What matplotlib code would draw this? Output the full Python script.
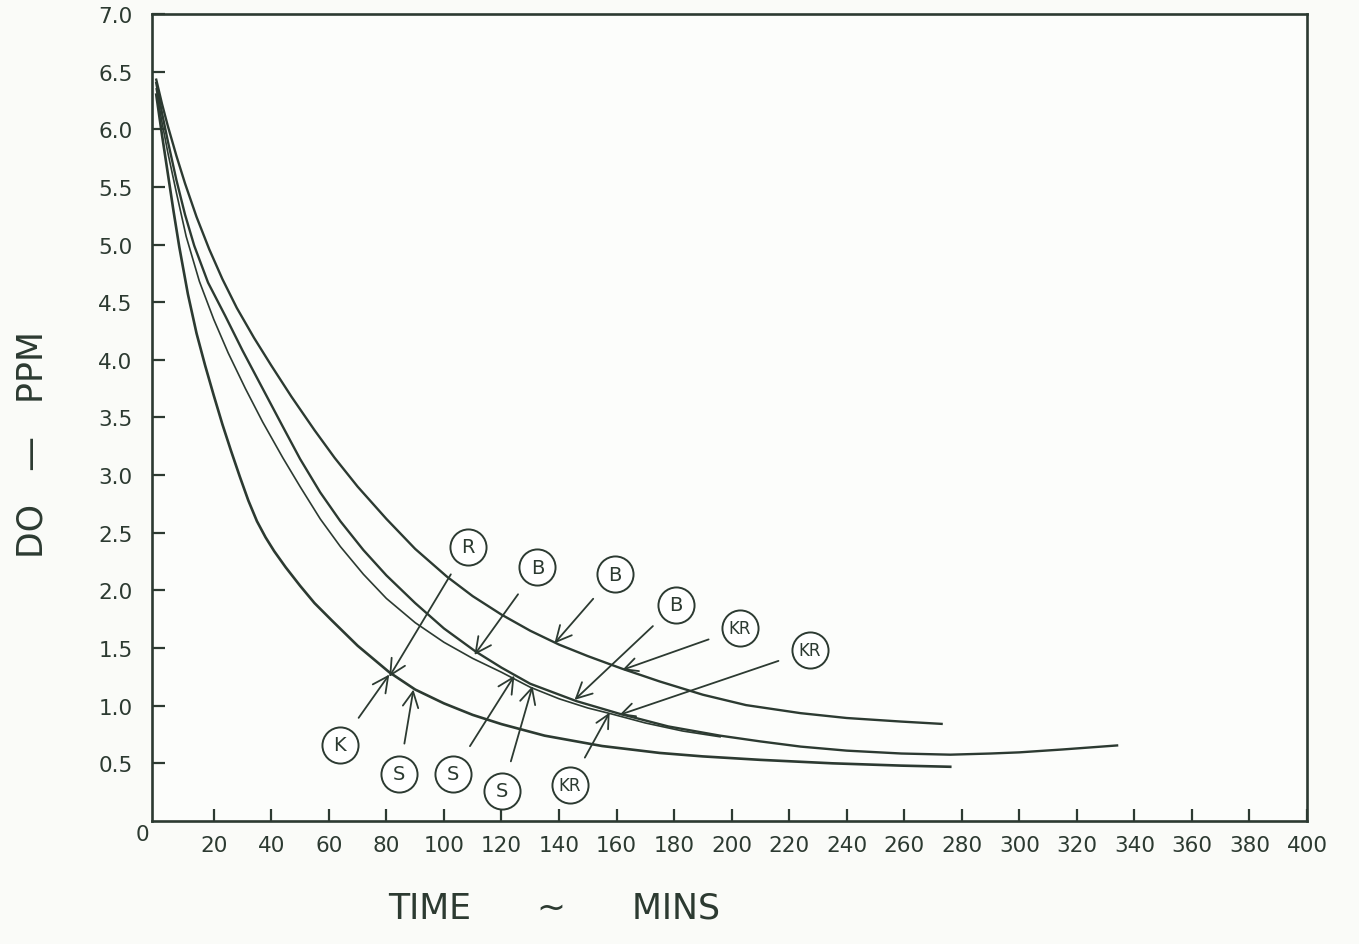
import matplotlib
matplotlib.use("Agg")
import matplotlib.pyplot as plt

ink = "#2c3a31"

# curve A (top)
a_t = [0, 2, 4, 7, 10, 14, 18.4, 23, 28, 34, 40, 47, 55, 62, 70, 80, 90, 101, 110,
       120, 130, 140, 150, 162, 175, 190, 205, 224, 240, 259, 273]
a_do = [6.43, 6.22, 6.03, 5.77, 5.53, 5.24, 4.96, 4.70, 4.45, 4.19, 3.95, 3.68, 3.39,
        3.15, 2.90, 2.62, 2.36, 2.12, 1.95, 1.79, 1.65, 1.53, 1.43, 1.32, 1.21, 1.095,
        1.005, 0.935, 0.893, 0.862, 0.842]

# curve B (long one)
b_t = [0, 2, 4, 7, 10, 13.2, 18, 24, 30, 37, 44, 50, 57, 64, 72, 80, 90, 100, 111,
       120, 130, 146, 161, 178, 196, 210, 224, 240, 259, 276, 290, 300, 315, 334]
b_do = [6.40, 6.14, 5.90, 5.56, 5.26, 4.99, 4.67, 4.38, 4.08, 3.75, 3.42, 3.14, 2.85,
        2.60, 2.35, 2.13, 1.89, 1.67, 1.47, 1.33, 1.19, 1.04, 0.93, 0.82, 0.74, 0.69,
        0.645, 0.61, 0.585, 0.575, 0.585, 0.595, 0.62, 0.655]

# curve C (short, thin)
c_t = [0, 2, 4, 7, 10.4, 15, 20, 25, 31, 37, 44, 50, 57, 64, 72, 80, 90, 100, 110,
       120, 130, 140, 150, 158, 170, 183, 196]
c_do = [6.35, 6.06, 5.80, 5.45, 5.07, 4.68, 4.35, 4.06, 3.75, 3.46, 3.15, 2.90, 2.62,
        2.38, 2.14, 1.93, 1.72, 1.55, 1.41, 1.29, 1.16, 1.06, 0.98, 0.93, 0.85, 0.78, 0.73]

# curve D (bottom)
d_t = [0, 2, 4, 6, 8, 11, 14, 17, 20, 23, 26, 29, 32, 35, 38, 41, 45, 50, 55, 61, 70,
       81, 90, 100, 110, 120, 135, 155, 175, 190, 210, 235, 259, 276]
d_do = [6.30, 5.95, 5.62, 5.29, 4.98, 4.57, 4.23, 3.95, 3.69, 3.44, 3.21, 2.99, 2.78,
        2.60, 2.46, 2.34, 2.20, 2.04, 1.89, 1.74, 1.52, 1.29, 1.14, 1.02, 0.92, 0.84,
        0.74, 0.65, 0.59, 0.56, 0.53, 0.50, 0.48, 0.47]

# circled labels: text, circle centre, arrow tip
tags = ["R", "B", "B", "B", "KR", "KR", "K", "S", "S", "S", "KR"]
tag_x = [108.2, 132.5, 159.3, 180.5, 202.8, 227.1, 63.7, 84.5, 103, 120.3, 143.7]
tag_y = [2.38, 2.20, 2.14, 1.875, 1.67, 1.48, 0.66, 0.41, 0.41, 0.26, 0.31]
tip_x = [81, 110.6, 138.4, 145.4, 162, 161, 81, 89.4, 124.5, 130.8, 157.6]
tip_y = [1.25, 1.44, 1.54, 1.05, 1.31, 0.92, 1.27, 1.14, 1.26, 1.17, 0.94]

xticks = list(range(20, 401, 20))
yticks = [0.5, 1.0, 1.5, 2.0, 2.5, 3.0, 3.5, 4.0, 4.5, 5.0, 5.5, 6.0, 6.5, 7.0]

fig = plt.figure(figsize=(13.59, 9.45), dpi=100, facecolor="#fafbf8")
ax = fig.add_axes([0.1118, 0.1302, 0.8499, 0.854])
ax.set_facecolor("#fcfdfb")

ax.plot(a_t, a_do, color=ink, lw=1.7)
ax.plot(b_t, b_do, color=ink, lw=1.7)
ax.plot(c_t, c_do, color=ink, lw=1.2)
ax.plot(d_t, d_do, color=ink, lw=1.9)

for s, cx, cy, tx, ty in zip(tags, tag_x, tag_y, tip_x, tip_y):
    ax.plot(cx, cy, "o", ms=26, mfc="white", mec=ink, mew=1.4, zorder=4)
    ax.annotate(s, xy=(tx, ty), xytext=(cx, cy), ha="center", va="center",
                fontsize=14 if len(s) == 1 else 12, color=ink, zorder=5,
                arrowprops=dict(arrowstyle="->,head_length=0.8,head_width=0.4",
                                color=ink, lw=1.3, shrinkA=13, shrinkB=0))

ax.set_xlim(-1.5, 400)
ax.set_ylim(0, 7.0)
ax.set_xticks(xticks)
ax.set_xticklabels([str(v) for v in xticks])
ax.set_yticks(yticks)
ax.set_yticklabels(["%.1f" % v for v in yticks])
ax.tick_params(direction="in", length=9, width=1.6, color=ink, labelcolor=ink,
               labelsize=15.5, top=False, right=False)
ax.tick_params(axis="x", pad=10)
ax.tick_params(axis="y", pad=14)
for sp in ax.spines.values():
    sp.set_color(ink)
    sp.set_linewidth(1.9)

ax.text(-4.9, -0.11, "0", ha="center", va="center", fontsize=15.5, color=ink, clip_on=False)

fig.text(0.408, 0.039, "TIME      ~      MINS", ha="center", va="center",
         fontsize=25, color=ink)
fig.text(0.024, 0.53, "DO   —   PPM", rotation=90, ha="center", va="center",
         fontsize=25, color=ink)

fig.savefig("out.png", dpi=100, facecolor=fig.get_facecolor())
